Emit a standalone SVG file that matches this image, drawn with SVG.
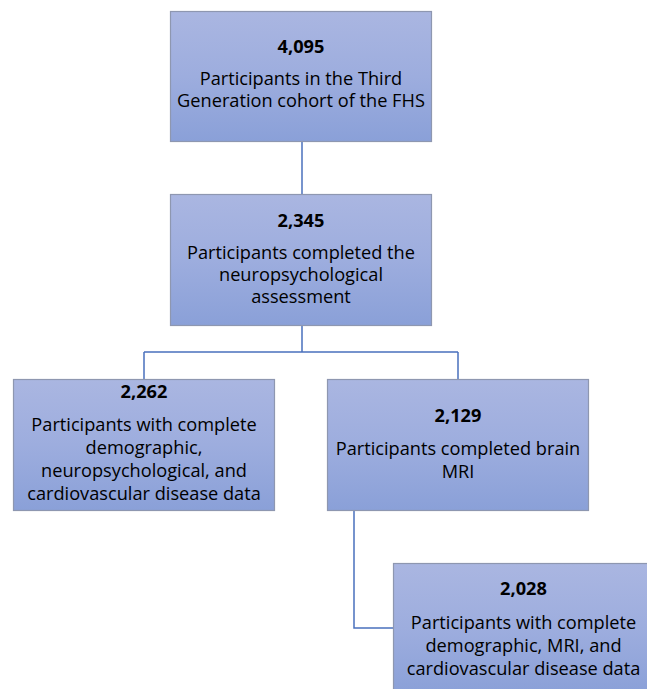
<svg xmlns="http://www.w3.org/2000/svg" width="647" height="689" viewBox="0 0 647 689">
<defs>
<linearGradient id="g" x1="0" y1="0" x2="0" y2="1">
<stop offset="0" stop-color="#aab6e1"/>
<stop offset="0.5" stop-color="#9dadde"/>
<stop offset="1" stop-color="#8aa0d8"/>
</linearGradient>
<style>
.box{fill:url(#g);stroke:#8e97b0;stroke-width:1.2}
.t{font-family:"Open Sans","Liberation Sans",sans-serif;font-size:18.2px;fill:#000;text-anchor:middle}
.n{font-weight:bold}
.c{fill:none;stroke:#4a70bd;stroke-width:1.5}
</style>
</defs>
<rect width="647" height="689" fill="#fff"/>
<g id="connectors">
<path class="c" d="M302 141V194"/>
<path class="c" d="M302 325V352M144 352H458M144 352V379M458 352V379"/>
<path class="c" d="M354 510V628H393"/>
</g>
<g id="n1">
<rect class="box" x="170.5" y="11.5" width="261" height="130"/>
<text class="t n" x="301" y="53">4,095</text>
<text class="t" x="301" y="85">Participants in the Third</text>
<text class="t" x="301" y="107">Generation cohort of the FHS</text>
</g>
<g id="n2">
<rect class="box" x="170.5" y="194.5" width="261" height="131"/>
<text class="t n" x="301" y="227">2,345</text>
<text class="t" x="301" y="259">Participants completed the</text>
<text class="t" x="301" y="281">neuropsychological</text>
<text class="t" x="301" y="303">assessment</text>
</g>
<g id="n3">
<rect class="box" x="13.5" y="379.5" width="261" height="131"/>
<text class="t n" x="144" y="398">2,262</text>
<text class="t" x="144" y="431">Participants with complete</text>
<text class="t" x="144" y="454">demographic,</text>
<text class="t" x="144" y="477">neuropsychological, and</text>
<text class="t" x="144" y="500">cardiovascular disease data</text>
</g>
<g id="n4">
<rect class="box" x="327.5" y="379.5" width="261" height="131"/>
<text class="t n" x="458" y="422">2,129</text>
<text class="t" x="458" y="455">Participants completed brain</text>
<text class="t" x="458" y="478">MRI</text>
</g>
<g id="n5">
<rect class="box" x="393.5" y="563.5" width="261" height="131"/>
<text class="t n" x="523.5" y="595">2,028</text>
<text class="t" x="523.5" y="629">Participants with complete</text>
<text class="t" x="523.5" y="652">demographic, MRI, and</text>
<text class="t" x="523.5" y="675">cardiovascular disease data</text>
</g>
</svg>
